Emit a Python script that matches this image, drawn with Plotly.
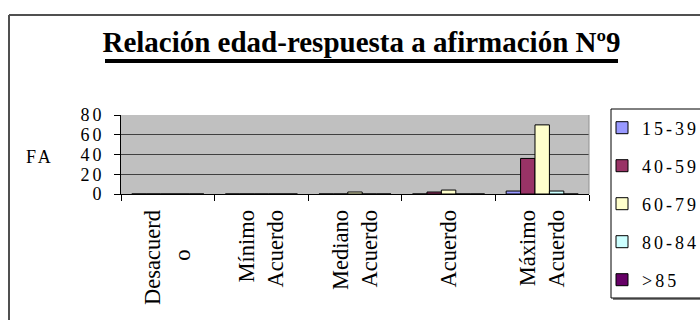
import plotly.graph_objects as go

# Categorías de respuesta y etiquetas del eje X (segunda línea centrada con espacios)
categorias = ["Desacuerdo", "Mínimo Acuerdo", "Mediano Acuerdo", "Acuerdo", "Máximo Acuerdo"]
etiquetas_x = ["Desacuerd<br>o" + "&nbsp;" * 7, "Mínimo<br>Acuerdo", "Mediano<br>Acuerdo",
               "Acuerdo", "Máximo<br>Acuerdo"]

# Frecuencia absoluta (FA) por grupo de edad
grupos_edad = ["15-39", "40-59", "60-79", "80-84", ">85"]
fa_15_39 = [0, 0, 0, 0, 3]
fa_40_59 = [0, 0, 0, 2, 36]
fa_60_79 = [0, 0, 2, 4, 70]
fa_80_84 = [0, 0, 0, 0, 3]
fa_85 = [0, 0, 0, 0, 0]
series = [fa_15_39, fa_40_59, fa_60_79, fa_80_84, fa_85]

colores = ["#9999FF", "#993366", "#FFFFCC", "#CCFFFF", "#660066"]
ticks_y = [0, 20, 40, 60, 80]

W, H = 700, 320
ML, MR, MT, MB = 121, 111, 115, 126
PW, PH = W - ML - MR, H - MT - MB
FUENTE = "Liberation Serif"

# fila de cada entrada de la leyenda (px desde arriba)
LEY_Y0, LEY_PASO = 128, 38


def px_x(px):
    return (px - ML) / PW


def px_y(py):
    return (H - MB - py) / PH


def espaciado(texto, sp=3):
    return f'<span style="letter-spacing:{sp}px">{texto}</span>'


fig = go.Figure()
leyendas = {}
for i, (nombre, valores, color) in enumerate(zip(grupos_edad, series, colores)):
    ley = "legend" if i == 0 else f"legend{i + 1}"
    fig.add_trace(go.Bar(
        x=categorias, y=valores, name=espaciado(nombre),
        legend=ley,
        marker=dict(color=color, line=dict(color="black", width=1)),
    ))
    leyendas[ley] = dict(
        x=px_x(602), y=px_y(LEY_Y0 + i * LEY_PASO), xanchor="left", yanchor="middle",
        bgcolor="rgba(0,0,0,0)", borderwidth=0,
        font=dict(family=FUENTE, size=18, color="black"),
    )

shapes = [
    # marco del gráfico
    dict(type="line", xref="paper", yref="paper", x0=px_x(9), x1=px_x(9),
         y0=px_y(15), y1=px_y(330), line=dict(color="#505050", width=2), layer="above"),
    dict(type="line", xref="paper", yref="paper", x0=px_x(9), x1=px_x(710),
         y0=px_y(15), y1=px_y(15), line=dict(color="#505050", width=2), layer="above"),
    # subrayado del título
    dict(type="line", xref="paper", yref="paper", x0=px_x(105), x1=px_x(618),
         y0=px_y(61), y1=px_y(61), line=dict(color="black", width=4), layer="above"),
    # borde derecho del área de trazado
    dict(type="line", xref="paper", yref="paper", x0=1, x1=1, y0=0, y1=1,
         line=dict(color="#909090", width=1), layer="above"),
    # cuadro de la leyenda con sombra
    dict(type="rect", xref="paper", yref="paper", x0=px_x(613), x1=px_x(712),
         y0=px_y(300), y1=px_y(111), line=dict(width=0), fillcolor="#808080", layer="above"),
    dict(type="rect", xref="paper", yref="paper", x0=px_x(611), x1=px_x(710),
         y0=px_y(298), y1=px_y(109), line=dict(color="black", width=1),
         fillcolor="white", layer="above"),
]

fig.update_layout(
    width=W, height=H,
    margin=dict(l=ML, r=MR, t=MT, b=MB, pad=0, autoexpand=False),
    paper_bgcolor="white",
    plot_bgcolor="#C0C0C0",
    font=dict(family=FUENTE, color="black", size=18),
    barmode="group",
    bargap=0.23,
    bargroupgap=0,
    showlegend=True,
    title=dict(
        text="<b>Relación edad-respuesta a afirmación Nº9</b>",
        font=dict(family=FUENTE, size=29, color="black"),
        x=361.5 / W, xanchor="center", xref="container",
        y=1 - 42 / H, yanchor="middle", yref="container",
    ),
    shapes=shapes,
    annotations=[
        dict(text=espaciado("FA"), xref="paper", yref="paper",
             x=px_x(40), y=px_y(156.5), xanchor="center", yanchor="middle",
             showarrow=False, font=dict(family=FUENTE, size=18, color="black")),
    ],
    **leyendas,
)

fig.update_xaxes(
    type="category",
    tickvals=categorias, ticktext=etiquetas_x,
    tickangle=-90,
    tickfont=dict(family=FUENTE, size=22.5, color="black"),
    ticks="outside", tickson="boundaries", ticklen=6, tickcolor="black", tickwidth=1,
    ticklabelstandoff=6,
    showline=True, linecolor="black", linewidth=1,
    showgrid=False, zeroline=False,
)

fig.update_yaxes(
    range=[0, 80],
    tickvals=ticks_y, ticktext=[espaciado(str(v)) for v in ticks_y],
    tickfont=dict(family=FUENTE, size=18, color="black"),
    ticks="outside", ticklen=6, tickcolor="black", tickwidth=1,
    ticklabelstandoff=6,
    showline=True, linecolor="black", linewidth=1,
    showgrid=True, gridcolor="#404040", gridwidth=1,
    zeroline=False,
)

fig.write_html("out.html")
